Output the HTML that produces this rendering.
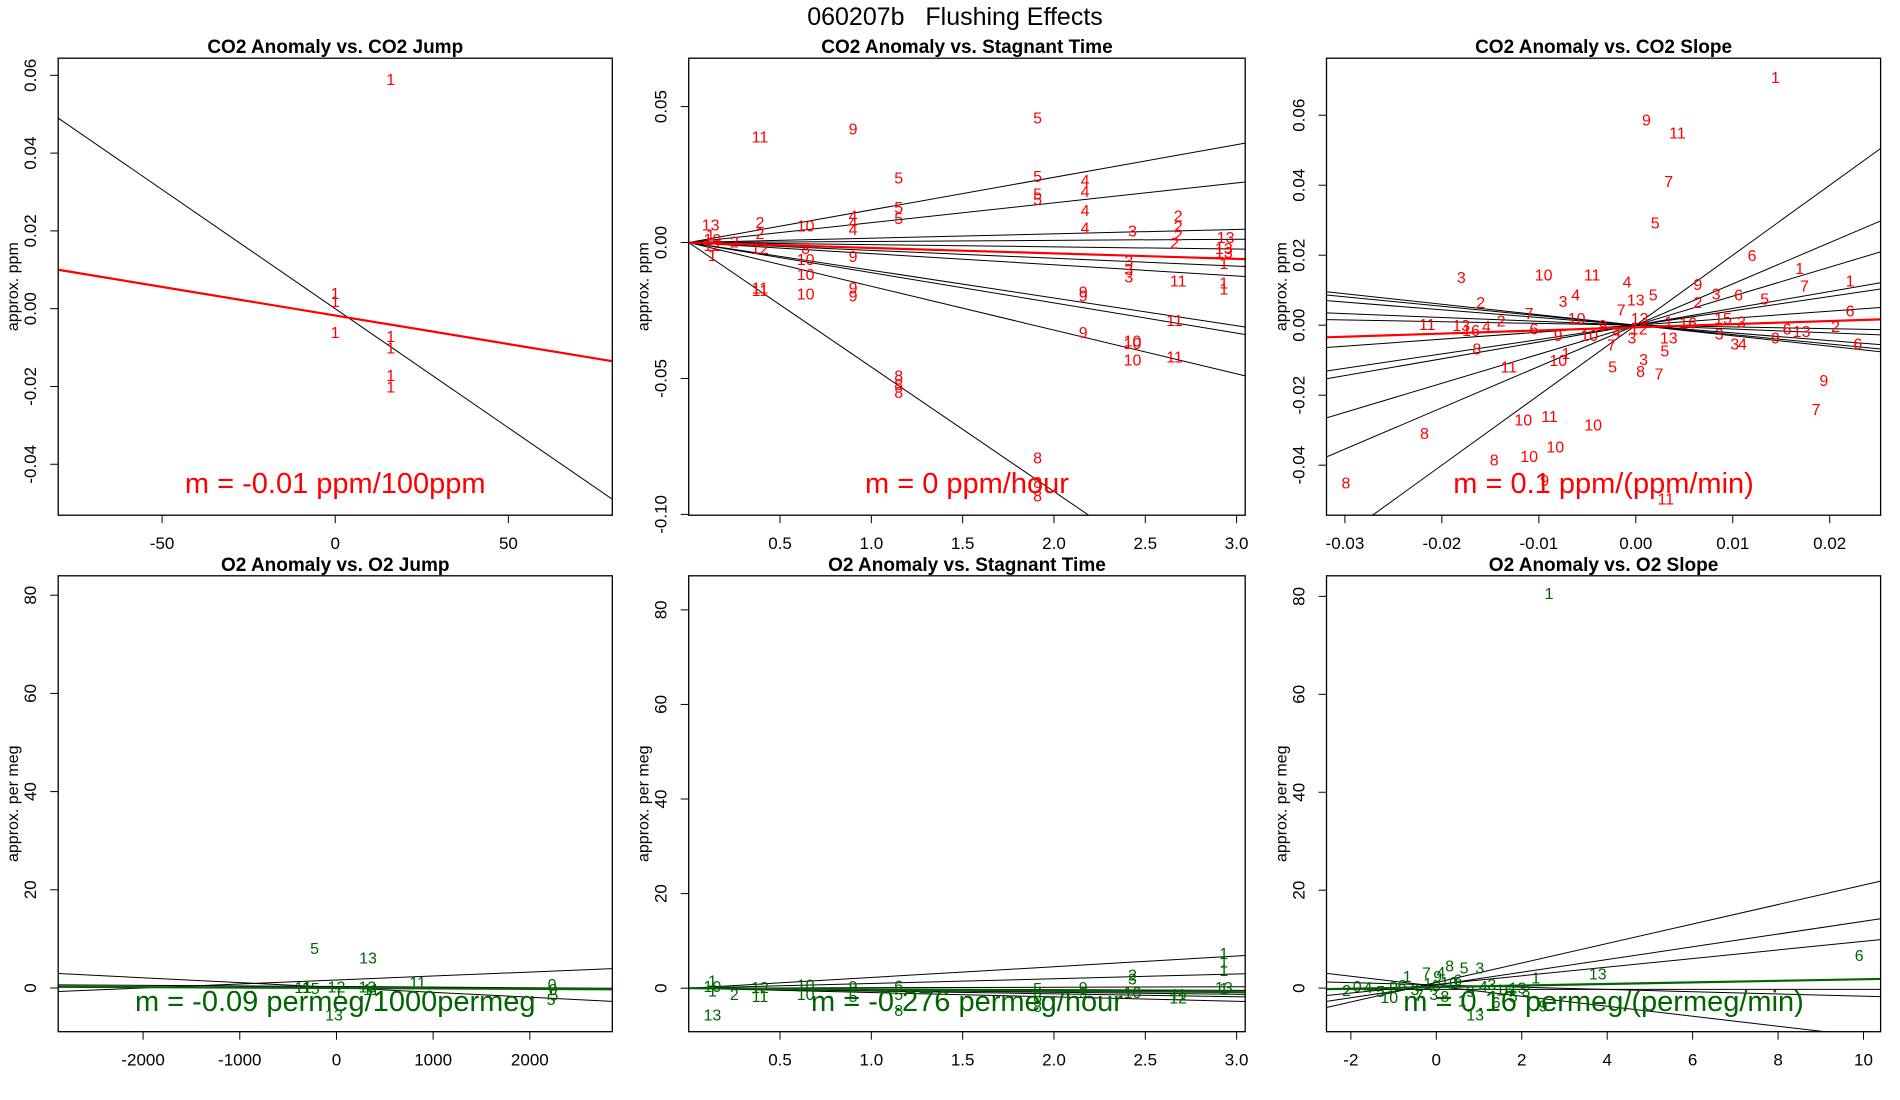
<!DOCTYPE html>
<html><head><meta charset="utf-8"><style>
html,body{margin:0;padding:0;background:#fff;}
svg{display:block;font-family:"Liberation Sans",Arial,sans-serif;}
</style></head><body>
<svg id="chart" width="1900" height="1100" viewBox="0 0 1900 1100" xmlns="http://www.w3.org/2000/svg">
<rect width="1900" height="1100" fill="#fff"/>
<text x="955" y="25" font-size="25" text-anchor="middle" style="white-space:pre" xml:space="preserve">060207b   Flushing Effects</text>
</svg>
<script>
// ---------- Panel 1: CO2 Anomaly vs CO2 Jump ----------
const p1X = [16, 0, 0, 0, 16, 16, 16, 16];
const p1Y = [0.059, 0.004, 0.002, -0.006, -0.007, -0.010, -0.017, -0.020];
const p1Lab = ["1","1","1","1","1","1","1","1"];
const p1Slopes = [-0.0006125];
const p1Ints = [0];
const p1Fit = [-0.00175, -0.000147];
const p1XTicks = [-50, 0, 50];
const p1YTicks = [0.06, 0.04, 0.02, 0.00, -0.02, -0.04];
const p1YTickLab = ["0.06","0.04","0.02","0.00","-0.02","-0.04"];

// ---------- Panel 2: CO2 Anomaly vs Stagnant Time ----------
const p2X = [0.39,0.90,1.91,1.15,1.91,2.17,2.17,1.91,1.91,1.15,1.15,0.90,0.90,0.90,2.17,2.17,2.43,2.68,2.68,2.68,2.66,2.94,2.93,2.93,2.93,2.93,2.93,2.68,2.66,2.66,2.41,2.41,2.41,2.43,2.43,2.43,2.16,2.16,2.16,1.91,1.91,1.91,1.15,1.15,1.15,0.90,0.90,0.90,0.64,0.64,0.64,0.64,0.64,0.39,0.39,0.39,0.39,0.39,0.12,0.13,0.13,0.13,0.25,0.12];
const p2Y = [0.039,0.042,0.046,0.024,0.0245,0.023,0.019,0.018,0.016,0.013,0.009,0.010,0.0075,0.005,0.012,0.0055,0.0045,0.010,0.006,0.003,0,0.002,-0.002,-0.0035,-0.0075,-0.0147,-0.017,-0.014,-0.0285,-0.042,-0.0067,-0.0098,-0.0125,-0.036,-0.037,-0.043,-0.018,-0.0195,-0.033,-0.079,-0.088,-0.093,-0.049,-0.052,-0.055,-0.005,-0.0165,-0.0195,0.0062,-0.002,-0.006,-0.0116,-0.0187,0.0075,0.0035,-0.002,-0.0165,-0.0175,0.0067,0.0013,-0.001,-0.0045,0.0004,0.0030];
const p2Lab = ["11","9","5","5","5","4","4","5","5","5","5","4","4","4","4","4","3","2","2","2","2","13","13","13","1","1","1","11","11","11","3","3","3","10","10","10","9","9","9","8","8","8","8","8","8","9","9","9","10","8","10","10","10","2","2","12","11","11","13","10","12","1","2","1"];
const p2Slopes = [0.0120, 0.0073, 0.0016, 0.0004, -0.0008, -0.0029, -0.0041, -0.0102, -0.0111, -0.0161, -0.0458];
const p2Ints = [0,0,0,0,0,0,0,0,0,0,0];
const p2Fit = [0, -0.0020];
const p2XTicks = [0.5, 1.0, 1.5, 2.0, 2.5, 3.0];
const p2XTickLab = ["0.5","1.0","1.5","2.0","2.5","3.0"];
const p2YTicks = [0.05, 0.00, -0.05, -0.10];
const p2YTickLab = ["0.05","0.00","-0.05","-0.10"];

// ---------- Panel 3: CO2 Anomaly vs CO2 Slope ----------
const p3X = [0.0144,0.0011,0.0043,0.0034,0.0020,0.0120,0.0169,0.0174,0.0221,0.0106,0.0133,0.0083,0.0064,0.0064,0.0221,0.0206,0.0156,0.0171,0.0229,0.0144,0.0110,0.0102,0.0086,0.0109,0.0090,0.0054,0.0194,0.0186,0.0034,0.0034,0.0030,0.0024,0.0008,0.0005,-0.0004,0.0018,0.0000,0.0004,-0.0015,-0.0009,-0.0045,-0.0062,-0.0075,-0.0095,-0.0110,-0.0139,-0.0154,-0.0160,-0.0180,-0.0180,-0.0170,-0.0215,-0.0164,-0.0061,-0.0080,-0.0048,-0.0025,-0.0034,-0.0024,-0.0072,-0.0080,-0.0131,-0.0116,-0.0089,-0.0044,-0.0083,-0.0110,-0.0094,-0.0146,-0.0218,-0.0299,0.0031,0.0003,-0.0105,-0.0020];
const p3Y = [0.0709,0.0588,0.0550,0.0412,0.0294,0.0200,0.0163,0.0114,0.0128,0.0087,0.0076,0.0090,0.0118,0.0066,0.0042,-0.0003,-0.0010,-0.0017,-0.0052,-0.0035,-0.0052,-0.0052,-0.0024,0.0010,0.0020,0.0007,-0.0156,-0.0239,0.0010,-0.0035,-0.0073,-0.0138,-0.0097,-0.0131,-0.0035,0.0087,0.0073,0.0020,0.0045,0.0125,0.0145,0.0087,0.0069,0.0145,0.0035,0.0014,-0.0003,0.0066,0.0138,0.0000,-0.0014,0.0003,-0.0066,0.0020,-0.0028,-0.0028,-0.0055,0.0000,-0.0118,-0.0080,-0.0100,-0.0118,-0.0270,-0.0260,-0.0284,-0.0346,-0.0374,-0.0443,-0.0384,-0.0308,-0.0450,-0.0495,-0.0010,-0.0010,-0.0020];
const p3Lab = ["1","9","11","7","5","6","1","7","1","6","5","3","9","2","6","2","6","13","6","9","4","3","3","3","15","16","9","7","1","13","5","7","3","8","3","5","13","13","7","4","11","4","3","10","7","2","4","2","3","13","16","11","8","10","9","10","7","9","5","1","10","11","10","11","10","10","10","9","8","8","8","11","12","6","4"];
const p3Slopes = [2.0, 1.18, 0.83, 0.48, 0.41, 0.20, -0.05, -0.11, -0.22, -0.27, -0.30];
const p3Ints = [0,0,0,0,0,0,0,0,0,0,0];
const p3Fit = [-0.0006, 0.09];
const p3XTicks = [-0.03, -0.02, -0.01, 0.00, 0.01, 0.02];
const p3XTickLab = ["-0.03","-0.02","-0.01","0.00","0.01","0.02"];
const p3YTicks = [0.06, 0.04, 0.02, 0.00, -0.02, -0.04];
const p3YTickLab = ["0.06","0.04","0.02","0.00","-0.02","-0.04"];

// ---------- Panel 4: O2 Anomaly vs O2 Jump ----------
const p4X = [-226, 326, 840, -25, -350, -300, -220, 0, 20, 320, 360, 2230, 2240, 2250, 2220];
const p4Y = [8.1, 6.2, 1.2, -5.4, 0.2, 0.2, 0.0, 0.3, -0.8, 0.3, -0.2, 0.8, -0.2, -1.3, -2.2];
const p4Lab = ["5","13","11","13","11","1","5","12","1","13","11","0","0","5","5"];
const p4Slopes = [-0.00099, 0.00081, -0.00012];
const p4Ints = [0.1, 1.63, 0.3];
const p4Fit = [0.0, -0.00009];
const p4XTicks = [-2000, -1000, 0, 1000, 2000];
const p4YTicks = [80, 60, 40, 20, 0];

// ---------- Panel 5: O2 Anomaly vs Stagnant Time ----------
const p5X = [2.93,2.93,2.93,0.13,1.15,1.91,0.13,0.13,0.39,0.39,0.64,0.64,0.90,0.90,1.15,1.15,1.91,1.91,2.16,2.16,2.43,2.43,2.43,2.68,2.68,2.93,2.93,0.25,0.13];
const p5Y = [7.4,5.6,3.8,-5.6,-4.6,-3.8,0.5,-0.5,0.2,-1.6,0.8,-1.2,0.5,-1.6,0.6,-1.2,0.0,-1.8,0.2,-0.8,2.9,2.0,-0.8,-1.2,-2.0,0.2,0.0,-1.2,1.6];
const p5Lab = ["1","1","1","13","8","8","10","1","12","11","10","10","9","5","6","5","5","8","9","9","2","3","10","11","12","13","1","2","1"];
const p5Slopes = [2.27, 1.0, 0.1, -0.15, -0.43, -0.6, -0.92];
const p5Ints = [0,0,0,0,0,0,0];
const p5Fit = [0, -0.276];
const p5XTicks = [0.5, 1.0, 1.5, 2.0, 2.5, 3.0];
const p5XTickLab = ["0.5","1.0","1.5","2.0","2.5","3.0"];
const p5YTicks = [80, 60, 40, 20, 0];

// ---------- Panel 6: O2 Anomaly vs O2 Slope ----------
const p6X = [2.64,9.9,3.78,2.33,0.31,0.65,1.02,-0.23,0.11,0.03,-0.68,0.91,-0.06,1.8,-2.1,-1.85,-1.6,-1.3,-1.0,-0.8,-0.5,-0.2,0.0,0.3,0.5,0.8,1.1,1.3,1.6,1.9,2.1,-1.1,-0.4,0.6,1.4,0.2,2.5];
const p6Y = [80.7,6.8,3.0,2.2,4.6,4.2,4.2,3.2,3.3,2.5,2.5,-5.4,-1.2,-1.6,-0.4,0.4,0.2,-0.6,0.3,0.6,-0.2,1.0,0.5,1.2,1.8,-0.6,0.4,0.8,-0.3,0.1,-0.5,-1.8,-1.4,-2.5,-2.8,-1.6,-3.5];
const p6Lab = ["1","6","13","1","8","5","3","7","4","9","1","13","3","5","2","0","4","5","9","6","3","1","8","10","6","9","4","3","16","13","3","10","7","1","6","8","9"];
const p6Slopes = [1.99, 1.30, 0.88, -1.02, -0.23, 0.0];
const p6Ints = [1.15, 0.64, 0.76, 0.38, 0.65, -0.25];
const p6Fit = [0.21, 0.16];
const p6XTicks = [-2, 0, 2, 4, 6, 8, 10];
const p6YTicks = [80, 60, 40, 20, 0];

const SVGNS = "http://www.w3.org/2000/svg";
const svg = document.getElementById("chart");
function mk(tag, attrs, parent) {
  const e = document.createElementNS(SVGNS, tag);
  for (const k in attrs) e.setAttribute(k, attrs[k]);
  (parent || svg).appendChild(e);
  return e;
}

function drawPanel(cfg) {
  const g = mk("g", {});
  
  
  const [L, R] = cfg.box[0], [T, B] = cfg.box[1];
  const sx = v => L + (v - cfg.xlim[0]) / (cfg.xlim[1] - cfg.xlim[0]) * (R - L);
  const sy = v => B - (v - cfg.ylim[0]) / (cfg.ylim[1] - cfg.ylim[0]) * (B - T);
  const cp = mk("clipPath", { id: cfg.id + "-clip" }, g);
  mk("rect", { x: L, y: T, width: R - L, height: B - T }, cp);

  const t = mk("text", { x: (L + R) / 2, y: T - 5, "font-size": 19, "font-weight": "bold", "text-anchor": "middle" }, g);
  t.textContent = cfg.title;
  
  

  cfg.xticks.forEach((v, i) => {
    const x = sx(v);
    const tk = mk("line", { x1: x, x2: x, y1: B, y2: B + 8, stroke: "#000", "stroke-width": 1 }, g);
    
    
    const lb = mk("text", { x: x, y: B + 34, "font-size": 17, "text-anchor": "middle" }, g);
    lb.textContent = cfg.xtickLab ? cfg.xtickLab[i] : String(v);
    
    
  });
  cfg.yticks.forEach((v, i) => {
    const y = sy(v);
    const tk = mk("line", { x1: L - 8, x2: L, y1: y, y2: y, stroke: "#000", "stroke-width": 1 }, g);
    
    
    const lb = mk("text", { x: 0, y: 0, "font-size": 17, "text-anchor": "middle", transform: `translate(${L - 22},${y}) rotate(-90)` }, g);
    lb.textContent = cfg.ytickLab ? cfg.ytickLab[i] : String(v);
    
    
  });
  const yt = mk("text", { x: 0, y: 0, "font-size": 16, "text-anchor": "middle", transform: `translate(${L - 40},${(T + B) / 2}) rotate(-90)` }, g);
  yt.textContent = cfg.ylab;
  
  

  const lg = mk("g", { "clip-path": `url(#${cfg.id}-clip)` }, g);
  cfg.slopes.forEach((m, i) => {
    const b = cfg.ints[i];
    const x0 = cfg.xlim[0], x1 = cfg.xlim[1];
    const ln = mk("line", { x1: sx(x0), y1: sy(b + m * x0), x2: sx(x1), y2: sy(b + m * x1), stroke: "#000", "stroke-width": 1 }, lg);
    
    
  });
  {
    const b = cfg.fit[0], m = cfg.fit[1];
    const x0 = cfg.xlim[0], x1 = cfg.xlim[1];
    const ln = mk("line", { x1: sx(x0), y1: sy(b + m * x0), x2: sx(x1), y2: sy(b + m * x1), stroke: cfg.color, "stroke-width": 2.2 }, lg);
    
    
  }
  cfg.px.forEach((v, i) => {
    const p = mk("text", { x: sx(v), y: sy(cfg.py[i]) + 6, "font-size": 16, fill: cfg.color, "text-anchor": "middle" }, g);
    p.textContent = cfg.plab[i];
    
    
  });
  const st = mk("text", { x: (L + R) / 2, y: cfg.slopeY, "font-size": 29, fill: cfg.color, "text-anchor": "middle" }, g);
  st.textContent = cfg.slopeText;
  
  
  const bx = mk("rect", { x: L, y: T, width: R - L, height: B - T, fill: "none", stroke: "#000", "stroke-width": 1.3 }, g);
  
  
}

const RED = "#ff0000", GREEN = "#006400";
const cols = [[58.2, 612.3], [688.7, 1245.2], [1326.5, 1880.6]];
const rows = [[58.2, 515.2], [575.8, 1031.7]];

drawPanel({ id: "co2-jump", box: [cols[0], rows[0]], xlim: [-80, 80], ylim: [-0.0531, 0.0644], title: "CO2 Anomaly vs. CO2 Jump", ylab: "approx. ppm",
  xticks: p1XTicks, yticks: p1YTicks, ytickLab: p1YTickLab, px: p1X, py: p1Y, plab: p1Lab, slopes: p1Slopes, ints: p1Ints, fit: p1Fit,
  color: RED, slopeText: "m = -0.01 ppm/100ppm", slopeY: 493 });
drawPanel({ id: "co2-stagnant", box: [cols[1], rows[0]], xlim: [0, 3.047], ylim: [-0.1003, 0.0678], title: "CO2 Anomaly vs. Stagnant Time", ylab: "approx. ppm",
  xticks: p2XTicks, xtickLab: p2XTickLab, yticks: p2YTicks, ytickLab: p2YTickLab, px: p2X, py: p2Y, plab: p2Lab, slopes: p2Slopes, ints: p2Ints, fit: p2Fit,
  color: RED, slopeText: "m = 0 ppm/hour", slopeY: 493 });
drawPanel({ id: "co2-slope", box: [cols[2], rows[0]], xlim: [-0.0319, 0.02525], ylim: [-0.0543, 0.0763], title: "CO2 Anomaly vs. CO2 Slope", ylab: "approx. ppm",
  xticks: p3XTicks, xtickLab: p3XTickLab, yticks: p3YTicks, ytickLab: p3YTickLab, px: p3X, py: p3Y, plab: p3Lab, slopes: p3Slopes, ints: p3Ints, fit: p3Fit,
  color: RED, slopeText: "m = 0.1 ppm/(ppm/min)", slopeY: 493 });
drawPanel({ id: "o2-jump", box: [cols[0], rows[1]], xlim: [-2878, 2853], ylim: [-8.9, 83.95], title: "O2 Anomaly vs. O2 Jump", ylab: "approx. per meg",
  xticks: p4XTicks, yticks: p4YTicks, px: p4X, py: p4Y, plab: p4Lab, slopes: p4Slopes, ints: p4Ints, fit: p4Fit,
  color: GREEN, slopeText: "m = -0.09 permeg/1000permeg", slopeY: 1011 });
drawPanel({ id: "o2-stagnant", box: [cols[1], rows[1]], xlim: [0, 3.047], ylim: [-9.2, 87.2], title: "O2 Anomaly vs. Stagnant Time", ylab: "approx. per meg",
  xticks: p5XTicks, xtickLab: p5XTickLab, yticks: p5YTicks, px: p5X, py: p5Y, plab: p5Lab, slopes: p5Slopes, ints: p5Ints, fit: p5Fit,
  color: GREEN, slopeText: "m = -0.276 permeg/hour", slopeY: 1011 });
drawPanel({ id: "o2-slope", box: [cols[2], rows[1]], xlim: [-2.57, 10.4], ylim: [-8.9, 84.2], title: "O2 Anomaly vs. O2 Slope", ylab: "approx. per meg",
  xticks: p6XTicks, yticks: p6YTicks, px: p6X, py: p6Y, plab: p6Lab, slopes: p6Slopes, ints: p6Ints, fit: p6Fit,
  color: GREEN, slopeText: "m = 0.16 permeg/(permeg/min)", slopeY: 1011 });
</script>
</body></html>
